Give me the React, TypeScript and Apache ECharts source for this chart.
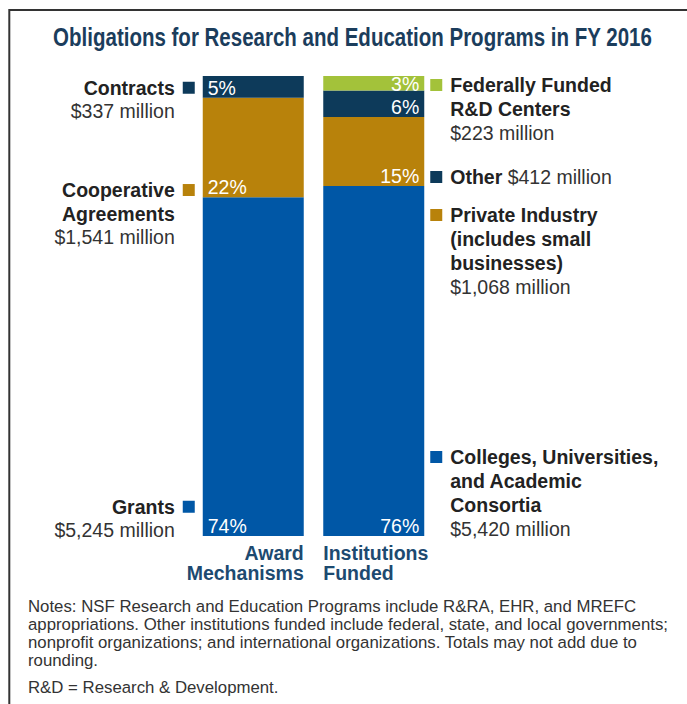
import React, { useEffect, useRef } from 'react';
import * as echarts from 'echarts';

// ---------- data ----------
const titleText = 'Obligations for Research and Education Programs in FY 2016';
const categoryLines = [
  ['Award', 'Mechanisms'],
  ['Institutions', 'Funded'],
];
const awardNames = ['Grants', 'Cooperative\nAgreements', 'Contracts'];
const awardValues = [5245, 1541, 337];
const awardPercents = [74, 22, 5];
const instNames = [
  'Colleges, Universities,\nand Academic\nConsortia',
  'Private Industry\n(includes small\nbusinesses)',
  'Other',
  'Federally Funded\nR&D Centers',
];
const instValues = [5420, 1068, 412, 223];
const instPercents = [76, 15, 6, 3];
const instValueInline = [false, false, true, false];
const segmentColors = ['#0057a6', '#b8820b', '#0d3a5a', '#a3c23a'];
const notesLines = [
  'Notes: NSF Research and Education Programs include R&RA, EHR, and MREFC',
  'appropriations. Other institutions funded include federal, state, and local governments;',
  'nonprofit organizations; and international organizations. Totals may not add due to',
  'rounding.',
];
const footnote = 'R&D = Research & Development.';

// ---------- styling ----------
const FONT = '"Liberation Sans", Arial, Helvetica, sans-serif';
const FS = 19.5;
const TITLE_FONT = `bold 25px ${FONT}`;
const TITLE_WIDTH = 599;

const fmt = (v: number) => '$' + String(v).replace(/\B(?=(\d{3})+(?!\d))/g, ',') + ' million';
const sum = (a: number[]) => a.reduce((s, v) => s + v, 0);

const markerStyles = (align?: string) => {
  const o: any = {};
  segmentColors.forEach((c, i) => {
    o['m' + i] = { width: 12, height: 12, backgroundColor: c, ...(align ? { align } : {}) };
  });
  return o;
};

const leftRich = {
  b: { fontFamily: FONT, fontSize: FS, fontWeight: 'bold', color: '#222', lineHeight: 23.5, align: 'right' },
  v: { fontFamily: FONT, fontSize: FS, color: '#333', lineHeight: 23.5, align: 'right' },
  g: { width: 8, align: 'right' },
  s: { width: 20, align: 'right' },
  ...markerStyles('right'),
};
const rightRich = {
  b: { fontFamily: FONT, fontSize: FS, fontWeight: 'bold', color: '#222', lineHeight: 24 },
  v: { fontFamily: FONT, fontSize: FS, color: '#333', lineHeight: 24 },
  g: { width: 8 },
  s: { width: 20 },
  ...markerStyles(),
};

const leftLabelText = (i: number) => {
  const lines = awardNames[i].split('\n');
  const out = lines.map((l, k) => (k === 0 ? `{b|${l}}{g|}{m${i}|}` : `{b|${l}}{s|}`));
  out.push(`{v|${fmt(awardValues[i])}}{s|}`);
  return out.join('\n');
};
const rightLabelText = (i: number) => {
  const lines = instNames[i].split('\n');
  const out = lines.map((l, k) => (k === 0 ? `{m${i}|}{g|}{b|${l}}` : `{s|}{b|${l}}`));
  if (instValueInline[i]) out[out.length - 1] += `{v| ${fmt(instValues[i])}}`;
  else out.push(`{s|}{v|${fmt(instValues[i])}}`);
  return out.join('\n');
};

const leftPlacement: any[] = [
  { position: [0, '100%'], verticalAlign: 'bottom', offset: [-8, 6] },
  { position: [0, '100%'], verticalAlign: 'top', offset: [-8, -19] },
  { position: [0, 0], verticalAlign: 'top', offset: [-8, 0] },
];
const rightPlacement: any[] = [
  { position: ['100%', '100%'], verticalAlign: 'bottom', offset: [6, 5] },
  { position: ['100%', '100%'], verticalAlign: 'top', offset: [6, 17] },
  { position: ['100%', '100%'], verticalAlign: 'top', offset: [6, 48] },
  { position: ['100%', 0], verticalAlign: 'top', offset: [6, -3] },
];
const pctOffsetRight = [0, 0, 0, 4];

function titleScale(): number {
  try {
    const ctx = document.createElement('canvas').getContext('2d');
    if (!ctx) return 0.75;
    ctx.font = TITLE_FONT;
    const w = ctx.measureText(titleText).width;
    return w > 0 ? Math.min(1, TITLE_WIDTH / w) : 0.75;
  } catch (e) {
    return 0.75;
  }
}

function buildOption(): any {
  const total = Math.max(sum(awardValues), sum(instValues));
  const visible = segmentColors.map((color, i) => ({
    type: 'bar',
    stack: 'share',
    barWidth: 101,
    barGap: '-100%',
    silent: true,
    itemStyle: { color },
    label: { show: true, color: '#fff', fontFamily: FONT, fontSize: FS },
    data: [
      awardValues[i] != null
        ? {
            value: awardValues[i],
            label: {
              position: [0, '100%'],
              align: 'left',
              verticalAlign: 'bottom',
              offset: [5, 0],
              formatter: `${awardPercents[i]}%`,
            },
          }
        : '-',
      {
        value: instValues[i],
        label: {
          position: ['100%', '100%'],
          align: 'right',
          verticalAlign: 'bottom',
          offset: [-5, pctOffsetRight[i]],
          formatter: `${instPercents[i]}%`,
        },
      },
    ],
  }));
  const ghost = segmentColors.map((_, i) => ({
    type: 'bar',
    stack: 'side',
    barWidth: 101,
    barGap: '-100%',
    silent: true,
    itemStyle: { color: 'rgba(0,0,0,0)' },
    label: { show: true },
    data: [
      awardValues[i] != null
        ? {
            value: awardValues[i],
            label: { ...leftPlacement[i], align: 'right', formatter: leftLabelText(i), rich: leftRich },
          }
        : '-',
      {
        value: instValues[i],
        label: { ...rightPlacement[i], align: 'left', formatter: rightLabelText(i), rich: rightRich },
      },
    ],
  }));

  const noteStyle = { fontFamily: FONT, fontSize: 16.8, fontWeight: 'normal', color: '#333', lineHeight: 18 };

  return {
    animation: false,
    backgroundColor: '#fff',
    title: [
      { text: notesLines.join('\n'), left: 28, top: 597, padding: 0, textStyle: noteStyle },
      { text: footnote, left: 28, top: 678, padding: 0, textStyle: noteStyle },
    ],
    grid: { left: 193, width: 241, top: 76, height: 460 },
    xAxis: {
      type: 'category',
      data: categoryLines.map((l) => l.join(' ')),
      axisLine: { show: false },
      axisTick: { show: false },
      axisLabel: {
        margin: 7,
        interval: 0,
        formatter: (_: string, idx: number) =>
          categoryLines[idx].map((l) => (idx === 0 ? `{r|${l}}` : `{l|${l}}`)).join('\n'),
        rich: {
          r: { width: 101, align: 'right', fontFamily: FONT, fontSize: FS, fontWeight: 'bold', color: '#1d4a70', lineHeight: 20 },
          l: { width: 101, align: 'left', fontFamily: FONT, fontSize: FS, fontWeight: 'bold', color: '#1d4a70', lineHeight: 20 },
        },
      },
    },
    yAxis: { type: 'value', min: 0, max: total, show: false },
    graphic: [
      {
        type: 'rect',
        silent: true,
        shape: { x: 9.3, y: 10, width: 720, height: 720 },
        style: { fill: 'none', stroke: '#333', lineWidth: 2 },
      },
      {
        type: 'text',
        silent: true,
        x: 352.5,
        y: 37,
        scaleX: titleScale(),
        scaleY: 1,
        style: {
          text: titleText,
          font: TITLE_FONT,
          fill: '#1b3d5c',
          align: 'center',
          verticalAlign: 'middle',
        },
      },
    ],
    series: [...visible, ...ghost],
  };
}

export default function App() {
  const ref = useRef<HTMLDivElement>(null);
  useEffect(() => {
    if (!ref.current) return;
    const chart = echarts.init(ref.current, undefined, { renderer: 'svg' });
    chart.setOption(buildOption());
    return () => chart.dispose();
  }, []);
  return <div ref={ref} style={{ position: 'fixed', left: 0, top: 0, width: 687, height: 704 }} />;
}
